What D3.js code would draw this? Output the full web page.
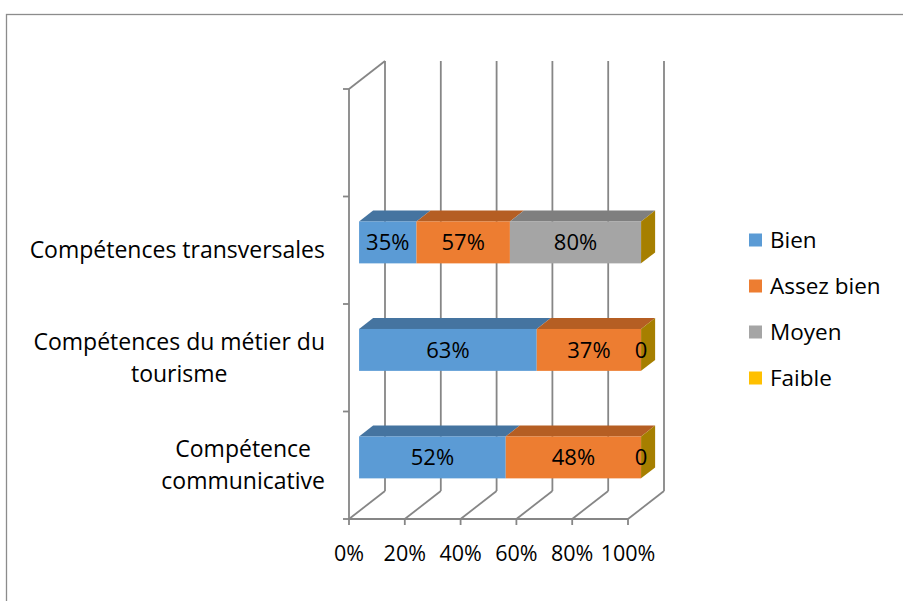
<!DOCTYPE html>
<html>
<head>
<meta charset="utf-8">
<script src="https://cdn.jsdelivr.net/npm/d3@7"></script>
<style>
  body { margin: 0; background: #fff; }
  svg text { font-family: "Open Sans", "Liberation Sans", Arial, sans-serif; fill: #000; }
</style>
</head>
<body>
<div id="chart"></div>
<script>
// categories from top to bottom (Excel left an empty slot on top)
const categories = ["", "Compétences transversales", "Compétences du métier du tourisme", "Compétence communicative"];
const labelLines = {
    "Compétences transversales": ["Compétences transversales"],
    "Compétences du métier du tourisme": ["Compétences du métier du", "tourisme"],
    "Compétence communicative": ["Compétence", "communicative"]
};
const series = ["Bien", "Assez bien", "Moyen", "Faible"];
const bien = [null, 35, 63, 52];
const assezBien = [null, 57, 37, 48];
const moyen = [null, 80, null, null];
const faible = [null, null, 0, 0];
const xTicks = [0, 0.2, 0.4, 0.6, 0.8, 1];

const frontColors = ["#5B9BD5", "#ED7D31", "#A5A5A5", "#FFC000"];
const topColors = ["#4574A0", "#B55E23", "#7F7F7F", "#A67F00"];
const sideColor = "#A67F00";
const gridColor = "#868686";

const W = 903, H = 601;
const DX = 36, DY = -28;      // full depth of the 3D box
const zFront = 0.28, zBack = 0.67;

const svg = d3.select("#chart").append("svg")
    .attr("width", W)
    .attr("height", H);

// outer frame
svg.append("rect")
    .attr("x", 6.5).attr("y", 14.5)
    .attr("width", 920).attr("height", 620)
    .attr("fill", "none").attr("stroke", "#8c8c8c").attr("stroke-width", 1.3);

const x = d3.scaleLinear().domain([0, 1]).range([349, 628]);
const xBar = d3.scaleLinear().domain([0, 1]).range([349, 631]);
const y = d3.scaleBand().domain(categories).range([89, 519]);
const floorY = y.range()[1], topY = y.range()[0];

const grid = svg.append("g")
    .attr("stroke", gridColor)
    .attr("stroke-width", 1.8)
    .attr("fill", "none");

// back wall verticals, floor diagonals, tick marks
xTicks.forEach(t => {
    grid.append("line")
        .attr("x1", x(t) + DX).attr("y1", floorY + DY)
        .attr("x2", x(t) + DX).attr("y2", topY + DY);
    grid.append("line")
        .attr("x1", x(t)).attr("y1", floorY)
        .attr("x2", x(t) + DX).attr("y2", floorY + DY);
    grid.append("line")
        .attr("x1", x(t)).attr("y1", floorY)
        .attr("x2", x(t)).attr("y2", floorY + 6);
});

// left wall
grid.append("line")
    .attr("x1", x(0)).attr("y1", floorY)
    .attr("x2", x(0)).attr("y2", topY);
grid.append("line")
    .attr("x1", x(0)).attr("y1", topY)
    .attr("x2", x(0) + DX).attr("y2", topY + DY);
grid.append("line")
    .attr("x1", x(0)).attr("y1", floorY)
    .attr("x2", x(1)).attr("y2", floorY);

// category ticks
const bounds = categories.map(c => y(c)).concat([floorY]);
bounds.forEach(b => {
    grid.append("line")
        .attr("x1", x(0) - 6).attr("y1", b)
        .attr("x2", x(0)).attr("y2", b);
});

// x tick labels
svg.append("g").selectAll("text")
    .data(xTicks)
    .join("text")
    .attr("x", d => x(d))
    .attr("y", 553)
    .attr("dy", "0.35em")
    .attr("text-anchor", "middle")
    .attr("font-size", 21.5)
    .text(d3.format(".0%"));

// category labels
const catG = svg.append("g");
categories.filter(c => c).forEach(c => {
    const lines = labelLines[c];
    const cy = y(c) + y.bandwidth() / 2;
    const lh = 32;
    const t = catG.append("text")
        .attr("font-size", 23)
        .attr("text-anchor", "middle");
    lines.forEach((ln, i) => {
        t.append("tspan")
            .attr("y", cy + (i - (lines.length - 1) / 2) * lh)
            .attr("dy", "0.35em")
            .text(ln);
    });
    const wMax = d3.max(t.selectAll("tspan").nodes(), n => n.getComputedTextLength());
    t.selectAll("tspan").attr("x", 325 - wMax / 2);
});

// bars
const values = [bien, assezBien, moyen, faible];
const barH = y.bandwidth() * 0.39;
const ddx = (zBack - zFront) * DX, ddy = (zBack - zFront) * DY;
const barsG = svg.append("g");
const labelsG = svg.append("g");

categories.forEach((c, ci) => {
    const vals = values.map(s => s[ci]);
    if (vals.every(v => v === null)) return;
    const total = d3.sum(vals);
    const yT = y(c) + y.bandwidth() / 2 - barH / 2 + zFront * DY;
    const yB = yT + barH;
    let acc = 0;
    const segs = vals.map((v, si) => {
        const s = { si, v, x0: acc / total };
        acc += (v || 0);
        s.x1 = acc / total;
        s.xa = xBar(s.x0) + zFront * DX;
        s.xb = xBar(s.x1) + zFront * DX;
        return s;
    });
    segs.forEach(s => {
        if (s.v === null || s.xb - s.xa <= 0) return;
        barsG.append("polygon")
            .attr("points", [[s.xa, yT], [s.xb, yT], [s.xb + ddx, yT + ddy], [s.xa + ddx, yT + ddy]].join(" "))
            .attr("fill", topColors[s.si]);
        barsG.append("rect")
            .attr("x", s.xa).attr("y", yT)
            .attr("width", s.xb - s.xa).attr("height", barH)
            .attr("fill", frontColors[s.si]);
    });
    const xe = xBar(1) + zFront * DX;
    barsG.append("polygon")
        .attr("points", [[xe, yT], [xe + ddx, yT + ddy], [xe + ddx, yB + ddy], [xe, yB]].join(" "))
        .attr("fill", sideColor);
    segs.forEach(s => {
        if (s.v === null) return;
        labelsG.append("text")
            .attr("x", (s.xa + s.xb) / 2)
            .attr("y", (yT + yB) / 2)
            .attr("dy", "0.35em")
            .attr("text-anchor", "middle")
            .attr("font-size", 22)
            .text(s.v === 0 ? "0" : s.v + "%");
    });
});

// legend
const ly = d3.scalePoint().domain(series).range([240, 378]);
const leg = svg.append("g");
series.forEach((s, i) => {
    leg.append("rect")
        .attr("x", 749).attr("y", ly(s) - 6.5)
        .attr("width", 13).attr("height", 13)
        .attr("fill", frontColors[i]);
    leg.append("text")
        .attr("x", 770).attr("y", ly(s))
        .attr("dy", "0.35em")
        .attr("font-size", 22.5)
        .text(s);
});
</script>
</body>
</html>
